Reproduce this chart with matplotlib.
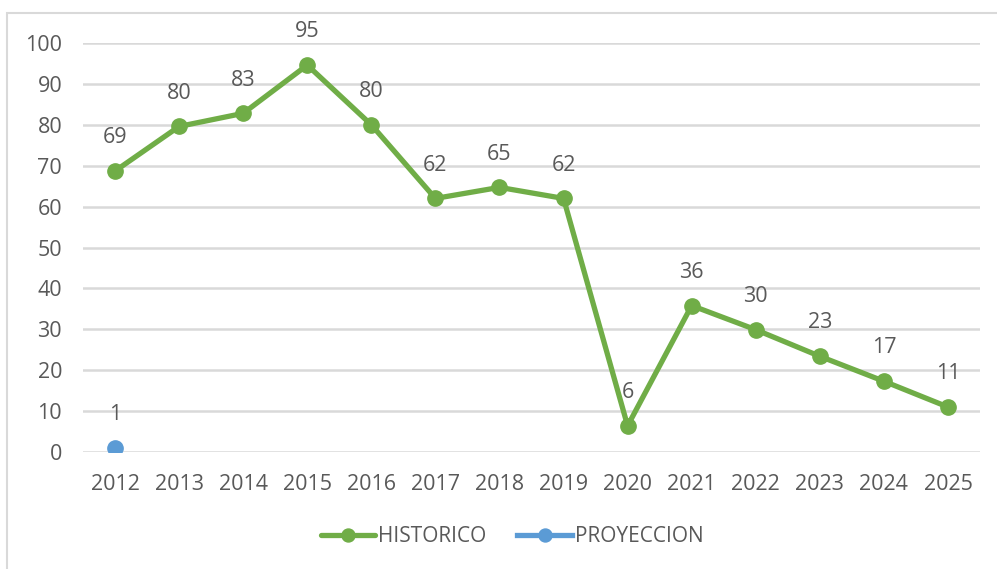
import matplotlib.pyplot as plt
from matplotlib.patches import Rectangle

years = [2012, 2013, 2014, 2015, 2016, 2017, 2018, 2019, 2020, 2021, 2022, 2023, 2024, 2025]
historico = [68.7, 79.6, 82.8, 94.6, 80.0, 62.0, 64.7, 62.0, 6.4, 35.8, 29.9, 23.4, 17.3, 11.0]
proy_years = [2012]
proyeccion = [1.0]

plt.rcParams['font.family'] = ['Open Sans', 'DejaVu Sans']
txt = '#595959'
green = '#70AD47'
blue = '#5B9BD5'

W, H = 997, 569
fig = plt.figure(figsize=(W / 100, H / 100), dpi=100)
fig.patches.append(Rectangle((7 / W, -0.1), 1.1, 1 - 13 / H + 0.1, transform=fig.transFigure,
                             fill=False, edgecolor='#D9D9D9', linewidth=1.5))
ax = fig.add_axes([83 / W, 1 - 452 / H, (980 - 83) / W, (452 - 43) / H])

x = list(range(len(years)))
ax.plot(x, historico, color=green, linewidth=3.8, marker='o', markersize=11, label='HISTORICO',
        solid_capstyle='round', zorder=3)
ax.plot([years.index(y) for y in proy_years], proyeccion, color=blue, linewidth=3.8, marker='o',
        markersize=11, label='PROYECCION', zorder=3)

for xi, v in zip(x, historico):
    ax.annotate('%d' % round(v), (xi, v), xytext=(0, 24), textcoords='offset points',
                ha='center', va='center', fontsize=15.5, color=txt)
for y, v in zip(proy_years, proyeccion):
    ax.annotate('%d' % round(v), (years.index(y), v), xytext=(0, 24), textcoords='offset points',
                ha='center', va='center', fontsize=15.5, color=txt)

ax.set_xlim(-0.5, len(years) - 0.5)
ax.set_ylim(0, 100)
ax.set_yticks(range(0, 101, 10))
ax.set_xticks(x)
ax.set_xticklabels([str(y) for y in years])
ax.grid(axis='y', color='#D9D9D9', linewidth=1.8)
ax.set_axisbelow(True)
for s in ax.spines.values():
    s.set_visible(False)
ax.tick_params(axis='both', length=0, labelsize=15.5, colors=txt)
ax.tick_params(axis='x', pad=16)
ax.tick_params(axis='y', pad=15)

leg = fig.legend(loc='center', bbox_to_anchor=(512 / W, 1 - 537 / H), ncol=2, frameon=False,
                 fontsize=15, handlelength=2.6, columnspacing=1.5, handletextpad=0.15,
                 markerscale=0.85)
for t in leg.get_texts():
    t.set_color(txt)

fig.savefig('out.png', dpi=100)
